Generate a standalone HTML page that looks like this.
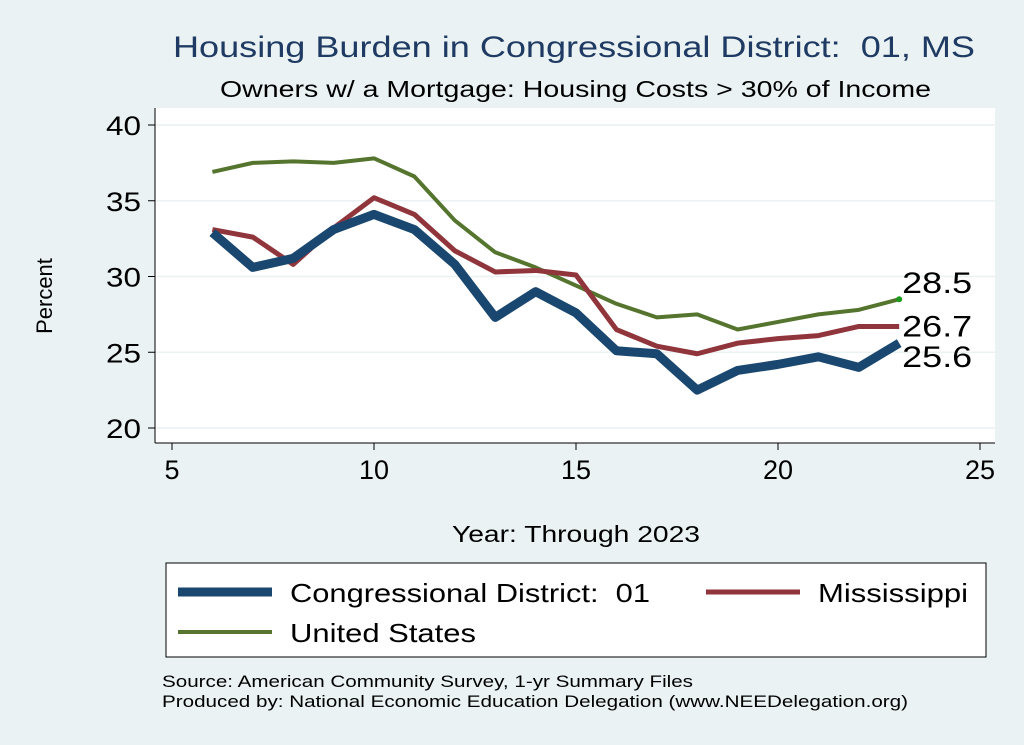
<!DOCTYPE html>
<html><head><meta charset="utf-8"><style>
body{margin:0;background:#eaf2f3;}
svg{display:block;font-family:"Liberation Sans",Arial,sans-serif;}
</style></head><body>
<svg id="c" width="1024" height="745" viewBox="0 0 1024 745">
<rect x="0" y="0" width="1024" height="745" fill="#eaf2f3"/>
<text x="173" y="57" font-size="30" fill="#1f3b63" textLength="802" lengthAdjust="spacingAndGlyphs">Housing Burden in Congressional District:&#160; 01, MS</text>
<text x="220" y="97" font-size="23" fill="#000" textLength="711" lengthAdjust="spacingAndGlyphs">Owners w/ a Mortgage: Housing Costs &gt; 30% of Income</text>
<rect x="155" y="108" width="840" height="335" fill="#fff"/>
<g id="grid"></g><g id="axes"></g><g id="series"></g>
<text x="52" y="296" font-size="22" text-anchor="middle" transform="rotate(-90 52 296)">Percent</text>
<text x="452" y="542" font-size="23" textLength="248" lengthAdjust="spacingAndGlyphs">Year: Through 2023</text>
<g>
<rect x="166" y="563" width="820" height="94" fill="#fff" stroke="#000" stroke-width="1"/>
<g><line x1="178" y1="592" x2="272" y2="592" stroke="#1a476f" stroke-width="9"/><text x="290" y="602" font-size="26" textLength="360" lengthAdjust="spacingAndGlyphs">Congressional District:&#160; 01</text></g>
<g><line x1="706" y1="592" x2="800" y2="592" stroke="#90353b" stroke-width="5"/><text x="818" y="602" font-size="26" textLength="150" lengthAdjust="spacingAndGlyphs">Mississippi</text></g>
<g><line x1="178" y1="632" x2="272" y2="632" stroke="#55752f" stroke-width="4"/><text x="290" y="642" font-size="26" textLength="186" lengthAdjust="spacingAndGlyphs">United States</text></g>
</g>
<text x="162" y="687" font-size="17" textLength="531" lengthAdjust="spacingAndGlyphs">Source: American Community Survey, 1-yr Summary Files</text>
<text x="162" y="707" font-size="17" textLength="746" lengthAdjust="spacingAndGlyphs">Produced by: National Economic Education Delegation (www.NEEDelegation.org)</text>
</svg>
<script>
const years=[6,7,8,9,10,11,12,13,14,15,16,17,18,19,20,21,22,23];
const district=[32.9,30.6,31.2,33.1,34.1,33.1,30.8,27.3,29.0,27.6,25.1,24.9,22.5,23.8,24.2,24.7,24.0,25.6];
const mississippi=[33.1,32.6,30.8,33.2,35.2,34.1,31.7,30.3,30.4,30.1,26.5,25.4,24.9,25.6,25.9,26.1,26.7,26.7];
const unitedStates=[36.9,37.5,37.6,37.5,37.8,36.6,33.7,31.6,30.6,29.4,28.2,27.3,27.5,26.5,27.0,27.5,27.8,28.5];
const xTicks=[5,10,15,20,25];
const yTicks=[20,25,30,35,40];
const NS='http://www.w3.org/2000/svg';
const X=v=>172+(v-5)*40.4;
const Y=v=>428-(v-20)*15.15;
function mk(t,a,p){const e=document.createElementNS(NS,t);for(const k in a)e.setAttribute(k,a[k]);p.appendChild(e);return e;}
const grid=document.getElementById('grid'),axes=document.getElementById('axes'),ser=document.getElementById('series');
mk('line',{x1:155,y1:108,x2:155,y2:443,stroke:'#000','stroke-width':1},axes);
mk('line',{x1:155,y1:443,x2:995,y2:443,stroke:'#000','stroke-width':1},axes);
yTicks.forEach(v=>{
 const g=mk('line',{x1:155,y1:Y(v),x2:995,y2:Y(v),stroke:'#eaf2f3','stroke-width':1.5},grid);
 
 
 mk('line',{x1:148,y1:Y(v),x2:155,y2:Y(v),stroke:'#000'},axes);
 const t=mk('text',{x:141,y:Y(v)+10,'font-size':27,'text-anchor':'end',textLength:35,lengthAdjust:'spacingAndGlyphs'},axes);t.textContent=v;
 
 
});
xTicks.forEach(v=>{
 mk('line',{x1:X(v),y1:443,x2:X(v),y2:450,stroke:'#000'},axes);
 const t=mk('text',{x:X(v),y:479,'font-size':27,'text-anchor':'middle'},axes);t.textContent=v;
 
 
});
function line(vals,col,w,name,dy){
 const p=mk('polyline',{points:years.map((y,i)=>X(y)+','+Y(vals[i])).join(' '),fill:'none',stroke:col,'stroke-width':w,'stroke-linejoin':'round'},ser);
 
 
 const last=vals[vals.length-1];
 const t=mk('text',{x:X(years[years.length-1])+3,y:Y(last)+dy,'font-size':30,textLength:70,lengthAdjust:'spacingAndGlyphs'},ser);t.textContent=last.toFixed(1);
 
 
}
line(unitedStates,'#55752f',4,'united-states-line',-6);
line(mississippi,'#90353b',5,'mississippi-line',10);
line(district,'#1a476f',9,'district-line',24);
mk('circle',{cx:X(23),cy:Y(unitedStates[17]),r:3,fill:'#1a9a1a'},ser);
</script>
</body></html>
